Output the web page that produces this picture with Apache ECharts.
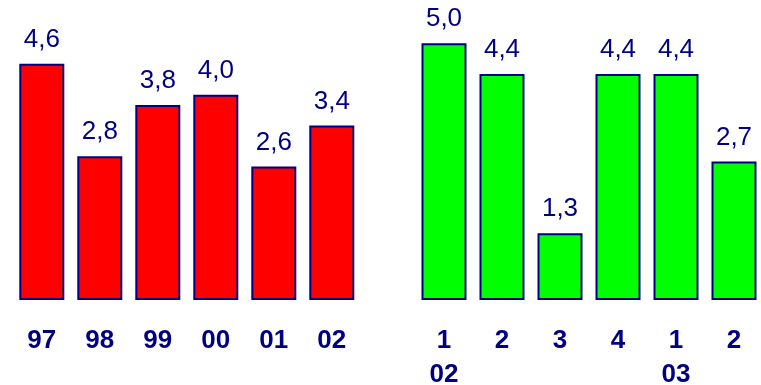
<!DOCTYPE html>
<html><head><meta charset="utf-8">
<script src="https://cdn.jsdelivr.net/npm/echarts@6/dist/echarts.min.js"></script>
<style>html,body{margin:0;padding:0;background:#fff}#c{width:761px;height:385px}</style>
</head><body><div id="c"></div>
<script>
const yearCats = ['97','98','99','00','01','02'];
const yearVals = [4.6, 2.8, 3.8, 4.0, 2.6, 3.4];
const quarterCats = ['1\n02','2','3','4','1\n03','2'];
const quarterVals = [5.0, 4.4, 1.3, 4.4, 4.4, 2.7];

const NAVY = '#000080';
const FONT = '"Liberation Sans", Arial, sans-serif';
const fmt = v => v.toFixed(1).replace('.', ',');

function xAxis(idx, data) {
  return {
    type: 'category', gridIndex: idx, data: data,
    axisLine: {show: false}, axisTick: {show: false},
    axisLabel: {color: NAVY, fontFamily: FONT, fontWeight: 'bold', fontSize: 26,
      lineHeight: 34, margin: 24, interval: 0}
  };
}
function yAxis(idx) {
  return {type: 'value', gridIndex: idx, min: 0, max: 5.6, show: false, splitLine: {show: false}};
}
function series(idx, vals, color) {
  return {
    type: 'bar', xAxisIndex: idx, yAxisIndex: idx, data: vals, barWidth: 45,
    itemStyle: {color: color, borderColor: NAVY, borderWidth: 2},
    label: {show: true, position: 'top', distance: 11, color: NAVY, fontFamily: FONT,
      fontSize: 26, formatter: p => fmt(p.value)},
    animation: false
  };
}
const chart = echarts.init(document.getElementById('c'));
chart.setOption({
  animation: false,
  grid: [
    {left: 12.8, width: 348, top: 12.5, bottom: 85, outerBoundsMode: 'none', containLabel: false},
    {left: 415, width: 348, top: 12.5, bottom: 85, outerBoundsMode: 'none', containLabel: false}
  ],
  xAxis: [xAxis(0, yearCats), xAxis(1, quarterCats)],
  yAxis: [yAxis(0), yAxis(1)],
  series: [series(0, yearVals, '#ff0000'), series(1, quarterVals, '#00ff00')]
});
</script></body></html>
